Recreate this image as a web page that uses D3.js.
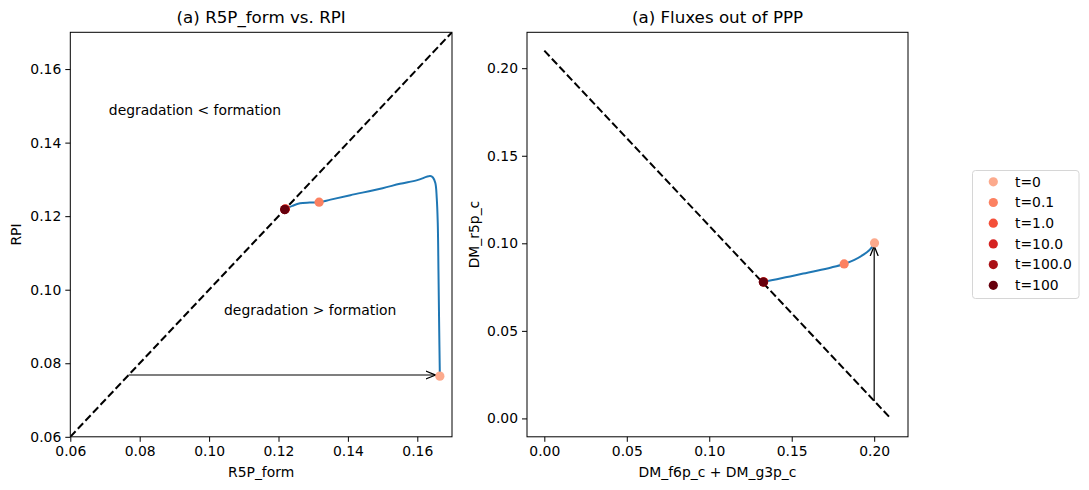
<!DOCTYPE html>
<html>
<head>
<meta charset="utf-8">
<script src="https://cdn.jsdelivr.net/npm/d3@7"></script>
<style>
  body { margin: 0; background: #fff; }
  svg { font-family: "DejaVu Sans", sans-serif; }
</style>
</head>
<body>
<div id="stage"></div>
<script>
// time points shown in the legend and their colours (Reds colormap)
const timeLabels = ['t=0', 't=0.1', 't=1.0', 't=10.0', 't=100.0', 't=100'];
const timeColors = ['#fcaa8d', '#fc8161', '#f44f39', '#d52221', '#aa1016', '#67000d'];

// left panel: R5P_form vs RPI trajectory
const r5pForm = [0.1665, 0.1663, 0.1661, 0.1659, 0.1656, 0.1652, 0.1645, 0.1637, 0.160, 0.155, 0.150, 0.1407, 0.135, 0.1317, 0.1290, 0.1262, 0.1240, 0.1228, 0.1217];
const rpi = [0.0765, 0.090, 0.105, 0.118, 0.125, 0.1290, 0.1305, 0.1309, 0.1298, 0.1288, 0.1276, 0.1257, 0.1245, 0.1238, 0.1237, 0.1235, 0.1228, 0.1223, 0.1218];
const leftPts = [[0.1665, 0.0765], [0.1317, 0.1238], [0.1220, 0.1220], [0.1219, 0.1219], [0.1218, 0.1218], [0.1218, 0.1218]];
const leftArrow = [[0.0768, 0.0768], [0.1653, 0.0768]];

// right panel: fluxes out of PPP
const fluxX = [0.2002, 0.1992, 0.1970, 0.1935, 0.1880, 0.1818, 0.1740, 0.1652, 0.1570, 0.1490, 0.1410, 0.1328];
const fluxY = [0.1002, 0.0985, 0.0960, 0.0935, 0.0905, 0.0882, 0.0862, 0.0843, 0.0827, 0.0811, 0.0795, 0.0779];
const rightPts = [[0.2002, 0.1002], [0.1818, 0.0882], [0.1330, 0.0780], [0.1329, 0.0779], [0.1328, 0.0779], [0.1328, 0.0779]];
const rightArrow = [[0.2, 0.01], [0.2, 0.0985]];

const leftTicks = [0.06, 0.08, 0.10, 0.12, 0.14, 0.16];
const rightTicks = [0.00, 0.05, 0.10, 0.15, 0.20];

const W = 1089, H = 490;
const svg = d3.select('#stage').append('svg').attr('width', W).attr('height', H);

svg.append('defs').append('marker')
  .attr('id', 'head')
  .attr('viewBox', '0 0 10 10')
  .attr('refX', 10).attr('refY', 5)
  .attr('markerWidth', 10).attr('markerHeight', 10)
  .attr('markerUnits', 'userSpaceOnUse')
  .attr('orient', 'auto')
  .append('path')
  .attr('d', 'M0,1 L10,5 L0,9')
  .attr('fill', 'none').attr('stroke', '#000').attr('stroke-width', 1.3);

function drawPanel(o) {
  const x = d3.scaleLinear().domain(o.xDomain).range([o.left, o.right]);
  const y = d3.scaleLinear().domain(o.yDomain).range([o.bottom, o.top]);
  const g = svg.append('g');

  const clipId = 'clip' + Math.round(o.left);
  g.append('clipPath').attr('id', clipId).append('rect')
    .attr('x', o.left).attr('y', o.top)
    .attr('width', o.right - o.left).attr('height', o.bottom - o.top);

  const xAxis = g.append('g').attr('transform', `translate(0,${o.bottom})`)
    .call(d3.axisBottom(x).tickValues(o.xTicks).tickFormat(d3.format('.2f')).tickSize(5).tickPadding(4));
  const yAxis = g.append('g').attr('transform', `translate(${o.left},0)`)
    .call(d3.axisLeft(y).tickValues(o.yTicks).tickFormat(d3.format('.2f')).tickSize(5).tickPadding(4));
  [xAxis, yAxis].forEach(a => {
    a.select('.domain').remove();
    a.selectAll('text').style('font-size', '13.9px').style('font-family', '"DejaVu Sans"').attr('fill', '#000');
    a.selectAll('line').attr('stroke', '#000').attr('stroke-width', 1);
  });

  const plot = g.append('g').attr('clip-path', `url(#${clipId})`);

  plot.append('line')
    .attr('x1', x(o.dash[0][0])).attr('y1', y(o.dash[0][1]))
    .attr('x2', x(o.dash[1][0])).attr('y2', y(o.dash[1][1]))
    .attr('stroke', '#000').attr('stroke-width', 2).attr('stroke-dasharray', '7.7,3.3');

  plot.append('path')
    .datum(d3.zip(o.lineX, o.lineY))
    .attr('d', d3.line().x(d => x(d[0])).y(d => y(d[1])).curve(d3.curveCatmullRom))
    .attr('fill', 'none').attr('stroke', '#1f77b4').attr('stroke-width', 2);

  plot.append('line')
    .attr('x1', x(o.arrow[0][0])).attr('y1', y(o.arrow[0][1]))
    .attr('x2', x(o.arrow[1][0])).attr('y2', y(o.arrow[1][1]))
    .attr('stroke', '#000').attr('stroke-width', 1.2)
    .attr('marker-end', 'url(#head)');

  plot.selectAll('circle').data(o.pts).join('circle')
    .attr('cx', d => x(d[0])).attr('cy', d => y(d[1]))
    .attr('r', 4.6)
    .attr('fill', (d, i) => timeColors[i]);

  g.append('rect')
    .attr('x', o.left).attr('y', o.top)
    .attr('width', o.right - o.left).attr('height', o.bottom - o.top)
    .attr('fill', 'none').attr('stroke', '#000').attr('stroke-width', 1);

  g.append('text')
    .attr('x', (o.left + o.right) / 2).attr('y', o.top - 9)
    .attr('text-anchor', 'middle').style('font-size', '16.7px')
    .text(o.title);
  g.append('text')
    .attr('x', (o.left + o.right) / 2).attr('y', o.bottom + 40)
    .attr('text-anchor', 'middle').style('font-size', '13.9px')
    .text(o.xLabel);
  g.append('text')
    .attr('transform', `translate(${o.yLabelX},${(o.top + o.bottom) / 2}) rotate(-90)`)
    .attr('text-anchor', 'middle').style('font-size', '13.9px')
    .text(o.yLabel);

  (o.notes || []).forEach(n => {
    g.append('text')
      .attr('x', x(n.x)).attr('y', y(n.y))
      .style('font-size', '13.9px')
      .text(n.text);
  });
}

drawPanel({
  left: 70.3, right: 452, top: 32.3, bottom: 436.8,
  xDomain: [0.06, 0.17], yDomain: [0.06, 0.17],
  xTicks: leftTicks, yTicks: leftTicks,
  dash: [[0.06, 0.06], [0.17, 0.17]],
  lineX: r5pForm, lineY: rpi,
  pts: leftPts, arrow: leftArrow,
  title: '(a) R5P_form vs. RPI', xLabel: 'R5P_form', yLabel: 'RPI', yLabelX: 20.5,
  notes: [
    {x: 0.0711, y: 0.1476, text: 'degradation < formation'},
    {x: 0.1043, y: 0.0931, text: 'degradation > formation'}
  ]
});

drawPanel({
  left: 527, right: 908, top: 32.3, bottom: 436.8,
  xDomain: [-0.0105, 0.2205], yDomain: [-0.0105, 0.2205],
  xTicks: rightTicks, yTicks: rightTicks,
  dash: [[0, 0.21], [0.21, 0]],
  lineX: fluxX, lineY: fluxY,
  pts: rightPts, arrow: rightArrow,
  title: '(a) Fluxes out of PPP', xLabel: 'DM_f6p_c + DM_g3p_c', yLabel: 'DM_r5p_c', yLabelX: 478.5
});

// legend
const legend = svg.append('g').attr('transform', 'translate(972.5,170.5)');
legend.append('rect')
  .attr('width', 106.5).attr('height', 128).attr('rx', 3)
  .attr('fill', '#fff').attr('stroke', '#d6d6d6').attr('stroke-width', 1);
const rows = legend.selectAll('g.row').data(timeLabels).join('g')
  .attr('class', 'row')
  .attr('transform', (d, i) => `translate(0,${11.3 + i * 20.7})`);
rows.append('circle').attr('cx', 20.8).attr('cy', 0).attr('r', 4.6)
  .attr('fill', (d, i) => timeColors[i]);
rows.append('text').attr('x', 42.5).attr('y', 0).attr('dy', '0.35em')
  .style('font-size', '13.9px').text(d => d);
</script>
</body>
</html>
